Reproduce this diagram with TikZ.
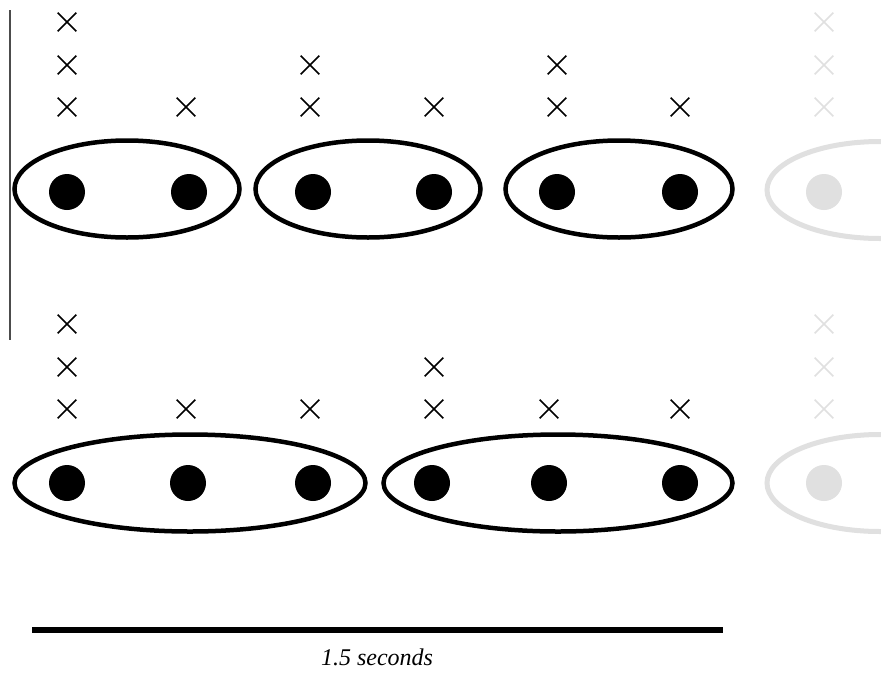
\documentclass[tikz,border=0pt]{standalone}
\usepackage{fontspec}
\setmainfont{Liberation Serif}
\usetikzlibrary{shapes.geometric,shapes.misc}
\definecolor{faded}{gray}{0.88}
\tikzset{
  xmark/.style={cross out, draw=black, line width=1.6pt, minimum size=17pt, inner sep=0pt},
  fxmark/.style={xmark, draw=faded},
  dotmark/.style={circle, fill=black, minimum size=36pt, inner sep=0pt},
  fdotmark/.style={dotmark, fill=faded},
  grp/.style={ellipse, draw=black, line width=4.5pt, minimum height=97pt, inner sep=0pt},
  fgrp/.style={grp, draw=faded, line width=5pt},
}
\begin{document}
\begin{tikzpicture}[x=1pt,y=-1pt]
\useasboundingbox (0,0) rectangle (881,673);
\fill[white] (0,0) rectangle (881,673);
\begin{scope}
\clip (0,0) rectangle (881,673);
% axis line
\coordinate (va) at (10,10);
\coordinate (vb) at (10,340);
\draw[line width=1.2pt, black!70] (va) -- (vb);

% ---------- top row ----------
\node[grp, minimum width=225pt] (e1) at (127,189) {};
\node[grp, minimum width=225pt] (e2) at (368,189) {};
\node[grp, minimum width=227pt] (e3) at (619,189) {};
\node[fgrp, minimum width=226pt] (e4) at (880,190) {};

\node[dotmark] (d1) at (67,192) {};
\node[dotmark] (d2) at (189,192) {};
\node[dotmark] (d3) at (313,192) {};
\node[dotmark] (d4) at (434,192) {};
\node[dotmark] (d5) at (557,192) {};
\node[dotmark] (d6) at (680,192) {};
\node[fdotmark] (d7) at (824,192) {};

\node[xmark] (x1a) at (67,22) {};
\node[xmark] (x1b) at (67,65) {};
\node[xmark] (x1c) at (67,107) {};
\node[xmark] (x2c) at (186,107) {};
\node[xmark] (x3b) at (310,65) {};
\node[xmark] (x3c) at (310,107) {};
\node[xmark] (x4c) at (434,107) {};
\node[xmark] (x5b) at (557,65) {};
\node[xmark] (x5c) at (557,107) {};
\node[xmark] (x6c) at (680,107) {};
\node[fxmark] (x7a) at (824,22) {};
\node[fxmark] (x7b) at (824,65) {};
\node[fxmark] (x7c) at (824,107) {};

% ---------- bottom row ----------
\node[grp, minimum width=351pt] (f1) at (190,483) {};
\node[grp, minimum width=349pt] (f2) at (558,483) {};
\node[fgrp, minimum width=226pt] (f3) at (880,483) {};

\node[dotmark] (g1) at (67,483) {};
\node[dotmark] (g2) at (188,483) {};
\node[dotmark] (g3) at (313,483) {};
\node[dotmark] (g4) at (432,483) {};
\node[dotmark] (g5) at (549,483) {};
\node[dotmark] (g6) at (680,483) {};
\node[fdotmark] (g7) at (824,483) {};

\node[xmark] (y1a) at (67,324) {};
\node[xmark] (y1b) at (67,367) {};
\node[xmark] (y1c) at (67,409) {};
\node[xmark] (y2c) at (186,409) {};
\node[xmark] (y3c) at (310,409) {};
\node[xmark] (y4b) at (434,367) {};
\node[xmark] (y4c) at (434,409) {};
\node[xmark] (y5c) at (549,409) {};
\node[xmark] (y6c) at (680,409) {};
\node[fxmark] (y7a) at (824,324) {};
\node[fxmark] (y7b) at (824,367) {};
\node[fxmark] (y7c) at (824,409) {};
\end{scope}

% scale bar
\coordinate (sa) at (32,630);
\coordinate (sb) at (723,630);
\draw[line width=5.5pt] (sa) -- (sb);
\node[font=\fontsize{24}{26}\selectfont\itshape, inner sep=0pt, anchor=base] (lab) at (377,665) {1.5 seconds};
\end{tikzpicture}
\end{document}
